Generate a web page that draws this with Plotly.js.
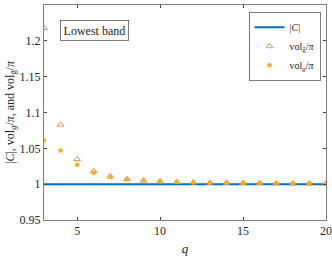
<!DOCTYPE html>
<html><head><meta charset="utf-8">
<script src="https://cdn.plot.ly/plotly-3.0.1.min.js"></script>
<style>html,body{margin:0;padding:0;background:#fff}#c{width:332px;height:256px}</style>
</head><body><div id="c"></div>
<script>
const q = [3,4,5,6,7,8,9,10,11,12,13,14,15,16,17,18,19,20];
const volGbar = [1.218,1.083,1.035,1.018,1.011,1.007,1.005,1.004,1.003,1.0025,1.002,1.002,1.0015,1.0015,1.0012,1.001,1.001,1.001];
const volG = [1.061,1.047,1.027,1.016,1.010,1.007,1.005,1.004,1.003,1.0025,1.002,1.002,1.0015,1.0015,1.0012,1.001,1.001,1.001];
const cAbs = q.map(()=>1);
const xTicks = [5,10,15,20];
const yTicks = [0.95,1,1.05,1.1,1.15,1.2,1.25];
const yTickText = ['0.95','1','1.05','1.1','1.15','1.2','1.25'];
const font = "Liberation Serif, DejaVu Serif, serif";
const traces = [
 {x:q,y:cAbs,mode:'lines',name:'|<i>C</i>|',line:{color:'#0072BD',width:2}},
 {x:q,y:volGbar,mode:'markers',name:'vol<sub>ḡ</sub>/<i>π</i>',marker:{symbol:'triangle-up-open',size:6,color:'#E8825A',line:{width:0.9}}},
 {x:q,y:volG,mode:'markers',name:'vol<sub><i>g</i></sub>/<i>π</i>',marker:{symbol:'circle',size:4.5,color:'#EDB120'}}
];
const layout = {
 width:332,height:256,margin:{l:44,r:6,t:5,b:36},
 paper_bgcolor:'#fff',plot_bgcolor:'#fff',
 font:{family:font,size:12,color:'#262626'},
 showlegend:true,
 legend:{x:0.982,y:0.967,xanchor:'right',yanchor:'top',bgcolor:'#fff',bordercolor:'#262626',borderwidth:0.6,font:{size:10},tracegroupgap:0,itemwidth:30},
 xaxis:{range:[3,20],tickvals:xTicks,ticks:'inside',ticklen:3,mirror:'ticks',showline:true,linecolor:'#808080',linewidth:1,showgrid:false,zeroline:false,tickfont:{size:12},
  title:{text:'<i>q</i>',font:{size:13},standoff:8}},
 yaxis:{range:[0.95,1.25],tickvals:yTicks,ticktext:yTickText,ticks:'inside',ticklen:3,mirror:'ticks',showline:true,linecolor:'#808080',linewidth:1,showgrid:false,zeroline:false,tickfont:{size:12},
  title:{text:'|<i>C</i>|, vol<sub><i>g</i></sub>/<i>π</i>, and vol<sub>ḡ</sub>/<i>π</i>',font:{size:12},standoff:2}},
 annotations:[{xref:'paper',yref:'paper',x:0.055,y:0.93,xanchor:'left',yanchor:'top',text:'Lowest band',showarrow:false,bordercolor:'#262626',borderwidth:0.6,borderpad:3,bgcolor:'#fff',font:{size:12}}]
};
Plotly.newPlot('c',traces,layout,{displayModeBar:false,staticPlot:true});
</script></body></html>
